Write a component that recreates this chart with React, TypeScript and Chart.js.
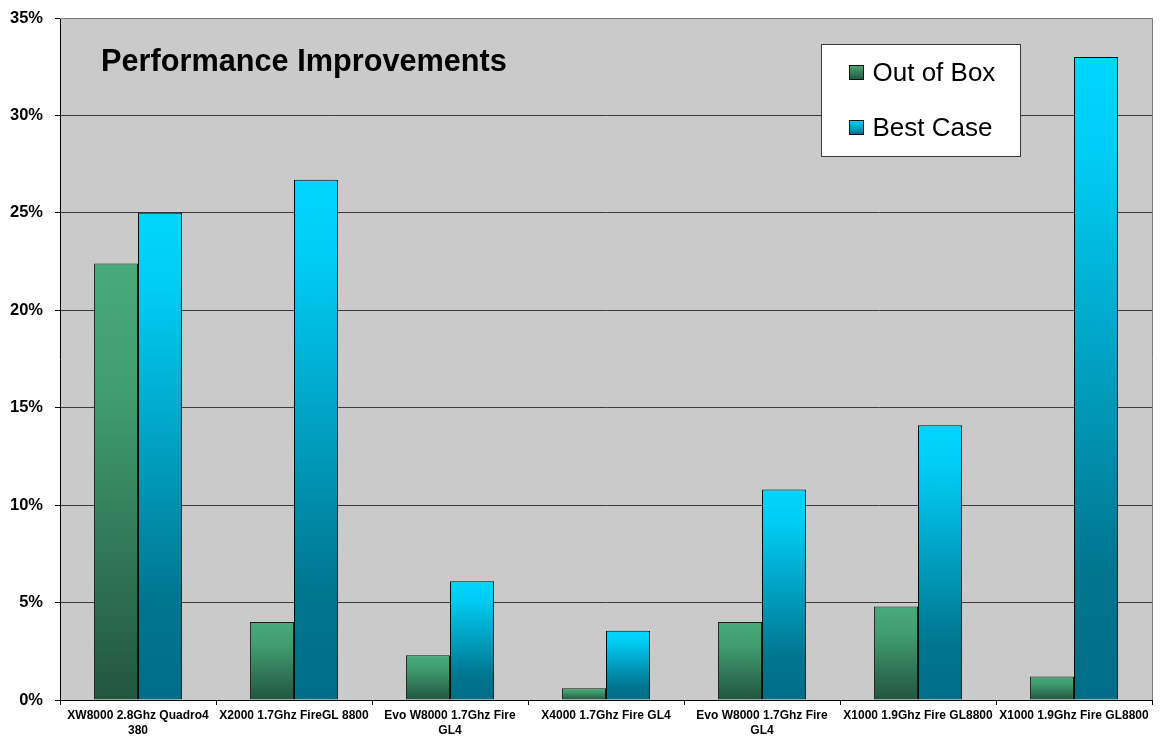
import React, { useEffect, useRef } from "react";
import { Chart, registerables } from "chart.js";

Chart.register(...registerables);

const categories: string[][] = [
  ["XW8000 2.8Ghz Quadro4", "380"],
  ["X2000 1.7Ghz FireGL 8800"],
  ["Evo W8000 1.7Ghz Fire", "GL4"],
  ["X4000 1.7Ghz Fire GL4"],
  ["Evo W8000 1.7Ghz Fire", "GL4"],
  ["X1000 1.9Ghz Fire GL8800"],
  ["X1000 1.9Ghz Fire GL8800"],
];
const outOfBox = [22.4, 4.0, 2.3, 0.6, 4.0, 4.8, 1.2];
const bestCase = [25.0, 26.7, 6.1, 3.55, 10.8, 14.1, 33.0];
const seriesNames = ["Out of Box", "Best Case"];
const chartTitle = "Performance Improvements";
const yMin = 0;
const yMax = 35;
const yStep = 5;

const FONT = "'Liberation Sans', Arial, Helvetica, sans-serif";
const greenStops: [number, string][] = [
  [0, "#48aa7a"],
  [0.3, "#409d6f"],
  [1, "#225540"],
];
const blueStops: [number, string][] = [
  [0, "#00d6ff"],
  [0.15, "#00cdf5"],
  [0.8, "#00758f"],
  [1, "#006e88"],
];

function barGradient(c: any, stops: [number, string][]) {
  const chart = c.chart;
  const y = chart.scales && chart.scales.y;
  if (!y || c.type !== "data" || c.raw == null) return stops[0][1];
  const top = y.getPixelForValue(c.raw);
  const bot = y.getPixelForValue(0);
  if (!isFinite(top) || !isFinite(bot) || Math.abs(bot - top) < 0.5) return stops[0][1];
  const g = chart.ctx.createLinearGradient(0, top, 0, bot);
  stops.forEach(([o, col]) => g.addColorStop(o, col));
  return g;
}

const bgPlugin = {
  id: "plotBg",
  beforeDraw(chart: any) {
    const { ctx, chartArea: a } = chart;
    ctx.save();
    ctx.fillStyle = "#ffffff";
    ctx.fillRect(0, 0, chart.width, chart.height);
    ctx.fillStyle = "#cacaca";
    ctx.fillRect(a.left, a.top, a.right - a.left, a.bottom - a.top);
    ctx.restore();
  },
  afterDraw(chart: any) {
    const { ctx, chartArea: a } = chart;
    ctx.save();
    ctx.strokeStyle = "#7a7a7a";
    ctx.lineWidth = 1;
    ctx.beginPath();
    ctx.moveTo(a.left, a.top + 0.5);
    ctx.lineTo(a.right + 0.5, a.top + 0.5);
    ctx.lineTo(a.right + 0.5, a.bottom);
    ctx.stroke();
    ctx.restore();
  },
};

const overlayPlugin = {
  id: "overlay",
  afterDatasetsDraw(chart: any) {
    const { ctx, chartArea: a } = chart;
    ctx.save();
    // title
    ctx.fillStyle = "#000";
    ctx.font = `bold 30.7px ${FONT}`;
    ctx.textBaseline = "middle";
    ctx.textAlign = "left";
    ctx.fillText(chartTitle, a.left + 41, a.top + 45);

    // legend box
    const lx = a.left + 761.5;
    const ly = a.top + 26.5;
    const lw = 199;
    const lh = 112;
    ctx.fillStyle = "#ffffff";
    ctx.fillRect(lx, ly, lw, lh);
    ctx.strokeStyle = "#3c3c3c";
    ctx.lineWidth = 1;
    ctx.strokeRect(lx, ly, lw, lh);

    const rows = [
      { name: seriesNames[0], stops: greenStops, cy: ly + 28 },
      { name: seriesNames[1], stops: blueStops, cy: ly + 83 },
    ];
    rows.forEach((r) => {
      const sx = lx + 28;
      const sy = r.cy - 7;
      const g = ctx.createLinearGradient(0, sy, 0, sy + 14);
      g.addColorStop(0, r.stops[0][1]);
      g.addColorStop(1, r.stops[r.stops.length - 1][1]);
      ctx.fillStyle = g;
      ctx.fillRect(sx, sy, 14, 14);
      ctx.strokeStyle = "#111";
      ctx.strokeRect(sx, sy, 14, 14);
      ctx.fillStyle = "#000";
      ctx.font = `26px ${FONT}`;
      ctx.textBaseline = "middle";
      ctx.fillText(r.name, lx + 51, r.cy + 1);
    });
    ctx.restore();
  },
};

export default function App() {
  const ref = useRef<HTMLCanvasElement | null>(null);
  useEffect(() => {
    if (!ref.current) return;
    const chart = new Chart(ref.current, {
      type: "bar",
      data: {
        labels: categories as any,
        datasets: [
          {
            label: seriesNames[0],
            data: outOfBox,
            backgroundColor: (c: any) => barGradient(c, greenStops),
            borderColor: "#1a1a1a",
            borderWidth: 1,
            categoryPercentage: 0.565,
            barPercentage: 1,
          },
          {
            label: seriesNames[1],
            data: bestCase,
            backgroundColor: (c: any) => barGradient(c, blueStops),
            borderColor: "#0a0a0a",
            borderWidth: 1,
            categoryPercentage: 0.565,
            barPercentage: 1,
          },
        ],
      },
      options: {
        responsive: false,
        animation: false,
        maintainAspectRatio: false,
        layout: { padding: { top: 18, right: 9, left: 0, bottom: 0 } },
        plugins: {
          legend: { display: false },
          title: { display: false },
          tooltip: { enabled: false },
        },
        scales: {
          x: {
            offset: true,
            grid: {
              offset: true,
              drawOnChartArea: false,
              drawTicks: true,
              tickLength: 5,
              color: "#000",
              tickColor: "#000",
            },
            border: { display: true, color: "#000", width: 1 },
            ticks: {
              color: "#000",
              font: { family: FONT, size: 12, weight: "bold", lineHeight: 1.25 },
              maxRotation: 0,
              autoSkip: false,
              padding: 3,
            },
            afterFit(scale: any) {
              scale.height = 38;
              scale.paddingLeft = 0;
              scale.paddingRight = 0;
            },
          },
          y: {
            min: yMin,
            max: yMax,
            grid: {
              color: "#3a3a3a",
              tickColor: "#000",
              tickLength: 5,
              lineWidth: 1,
            },
            border: { display: true, color: "#000", width: 1 },
            ticks: {
              stepSize: yStep,
              color: "#000",
              font: { family: FONT, size: 16.5, weight: "bold" },
              padding: 12,
              callback: (v: any) => `${v}%`,
            },
            afterFit(scale: any) {
              scale.width = 60;
              scale.paddingTop = 0;
              scale.paddingBottom = 0;
            },
          },
        },
      },
      plugins: [bgPlugin, overlayPlugin],
    });
    return () => chart.destroy();
  }, []);
  return (
    <div style={{ position: "absolute", left: 0, top: 0, width: 1161, height: 738 }}>
      <canvas ref={ref} width={1161} height={738} style={{ display: "block" }} />
    </div>
  );
}
